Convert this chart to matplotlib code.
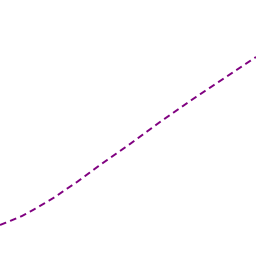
import matplotlib
matplotlib.use("Agg")
import matplotlib.pyplot as plt

x_vals = [0, 10, 22, 33, 45, 55, 65, 77, 100, 130, 160, 193, 220, 247, 256]
y_vals = [31, 35, 40, 46, 53, 59, 66, 74, 91, 112, 134, 157, 175, 193, 199]

fig = plt.figure(figsize=(2.56, 2.56), dpi=100)
ax = fig.add_axes([0, 0, 1, 1])
ax.plot(x_vals, y_vals, color="#800080", linewidth=1.4, linestyle=(0, (3.4, 2.2)))
ax.set_xlim(0, 256)
ax.set_ylim(0, 256)
ax.axis("off")
fig.savefig("out.png", dpi=100)
